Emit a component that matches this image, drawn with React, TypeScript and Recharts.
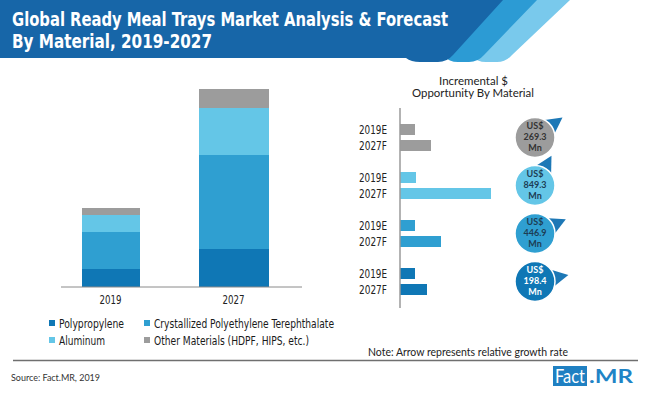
import React from 'react';
import { BarChart, Bar, XAxis, YAxis, Cell, LabelList } from 'recharts';

// left panel: market value by material (stacked)
const years = ['2019', '2027'];
const materialNames = [
  'Polypropylene',
  'Crystallized Polyethylene Terephthalate',
  'Aluminum',
  'Other Materials (HDPF, HIPS, etc.)',
];
const polypropylene = [18, 38];
const cpet = [37, 94];
const aluminum = [17, 47];
const otherMaterials = [7, 19];

// right panel: incremental opportunity (top to bottom: other, aluminum, cpet, polypropylene)
const oppPeriods = ['2019E', '2027F'];
const opp2019 = [15, 16, 15, 15];
const opp2027 = [31, 91, 41, 27];
const incremental = [269.3, 849.3, 446.9, 198.4];
const arrowAngle = [-36, -61, -25, -11];

const MAT_COLORS = ['#0f77b5', '#2f9fd1', '#64c6e7', '#9c9c9c'];
const OPP_COLORS = [MAT_COLORS[3], MAT_COLORS[2], MAT_COLORS[1], MAT_COLORS[0]];
const BUBBLE_TEXT = ['#333333', '#1d3d55', '#1d3d55', '#ffffff'];
const NARROW = "'Liberation Sans Narrow', 'DejaVu Sans Condensed', 'Roboto Condensed', Roboto, sans-serif";
const SOFT = "Lato, 'Open Sans', sans-serif";

const stackData = years.map((year, i) => ({
  year,
  pp: polypropylene[i],
  cpet: cpet[i],
  al: aluminum[i],
  other: otherMaterials[i],
}));

type OppRow = { id: string; label: string; value: number; group: number; first: boolean };
const oppRows: OppRow[] = [];
opp2019.forEach((v, g) => {
  oppRows.push({ id: `g${g}a`, label: oppPeriods[0], value: v, group: g, first: true });
  oppRows.push({ id: `g${g}b`, label: oppPeriods[1], value: opp2027[g], group: g, first: false });
  if (g < opp2019.length - 1) oppRows.push({ id: `s${g}`, label: '', value: 0, group: g, first: false });
});

const barWidths = [58, 70];

const StackShape = (props: any) => {
  const { x, y, width, height, fill, index } = props;
  if (!height || height <= 0) return null;
  const w = barWidths[index] ?? width;
  return <rect x={x + (width - w) / 2} y={y} width={w} height={height} fill={fill} />;
};

const OppShape = (props: any) => {
  const { x, y, width, height, fill } = props;
  if (!width || width <= 0) return null;
  return <rect x={x} y={y} width={width} height={height} fill={fill} />;
};

const YearTick = (props: any) => {
  const { x, y, payload } = props;
  return (
    <text x={x} y={y} dy={9} textAnchor="middle" fontFamily={NARROW} fontSize={12} fill="#222"
      textLength={22} lengthAdjust="spacingAndGlyphs">
      {payload.value}
    </text>
  );
};

const OppTick = (props: any) => {
  const { x, y, payload } = props;
  const row = oppRows.find((r) => r.id === payload.value);
  if (!row || !row.label) return null;
  return (
    <text x={x} y={y} dy={4.5} textAnchor="end" fontFamily={NARROW} fontSize={12} fill="#222"
      textLength={28} lengthAdjust="spacingAndGlyphs">
      {row.label}
    </text>
  );
};

const Bubble = (props: any) => {
  const { index } = props;
  const vb = props.viewBox ?? props;
  const row = oppRows[index];
  if (!row || !row.first) return null;
  const g = row.group;
  const r = 20;
  const cx = vb.x + 135;
  const cy = vb.y + vb.height / 2 + 8;
  const a = (arrowAngle[g] * Math.PI) / 180;
  const half = (34 * Math.PI) / 180;
  const tip = r + 14;
  const pts = [
    [cx + tip * Math.cos(a), cy + tip * Math.sin(a)],
    [cx + (r - 2) * Math.cos(a - half), cy + (r - 2) * Math.sin(a - half)],
    [cx + (r - 2) * Math.cos(a + half), cy + (r - 2) * Math.sin(a + half)],
  ];
  const col = BUBBLE_TEXT[g];
  return (
    <g>
      <polygon points={pts.map((p) => p.join(',')).join(' ')} fill="#1d78b6" />
      <circle cx={cx} cy={cy} r={r} fill={OPP_COLORS[g]} stroke="#fff" strokeWidth={1.5} />
      <text textAnchor="middle" fontFamily={SOFT} fontWeight="bold" fontSize={9} fill={col}>
        <tspan x={cx} y={cy - 8.5}>US$</tspan>
        <tspan x={cx} y={cy + 2.5}>{incremental[g].toFixed(1)}</tspan>
        <tspan x={cx} y={cy + 13.5}>Mn</tspan>
      </text>
    </g>
  );
};

const legendPos = [
  { x: 49, y: 323, w: 65 },
  { x: 144, y: 323, w: 180 },
  { x: 49, y: 340, w: 46 },
  { x: 144, y: 340, w: 155 },
];

export default function App() {
  return (
    <div style={{ position: 'absolute', left: 0, top: 0, width: 650, height: 395, background: '#fff', overflow: 'hidden' }}>
      {/* header band */}
      <svg width={650} height={66} style={{ position: 'absolute', left: 0, top: 0 }}>
        <path d="M470 0 H570 L512 55 Q506 62 497 62 H486 Q477 62 472 56 Z" fill="#79c9ec" />
        <path d="M440 0 H537 L484 55 Q478 62 469 62 H458 Q449 62 444 56 Z" fill="#2c9bd4" />
        <path d="M0 0 H503 L453 55 Q447 62 438 62 H420 Q411 62 406 58 H0 Z" fill="#1766a8" />
        <text x={12} y={26} fill="#fff" fontFamily={NARROW} fontWeight="bold" fontSize={19}
          textLength={436} lengthAdjust="spacingAndGlyphs">
          Global Ready Meal Trays Market Analysis &amp; Forecast
        </text>
        <text x={12} y={48} fill="#fff" fontFamily={NARROW} fontWeight="bold" fontSize={19}
          textLength={200} lengthAdjust="spacingAndGlyphs">
          By Material, 2019-2027
        </text>
      </svg>

      {/* left stacked chart */}
      <div style={{ position: 'absolute', left: 0, top: 70 }}>
        <BarChart width={340} height={240} data={stackData} margin={{ top: 17, right: 38, left: 61, bottom: 0 }}>
          <XAxis dataKey="year" axisLine={{ stroke: '#8a8a8a' }} tickLine={false} tick={<YearTick />}
            height={23} padding={{ left: -12, right: 7 }} />
          <YAxis hide domain={[0, 200]} />
          <Bar dataKey="pp" stackId="a" fill={MAT_COLORS[0]} barSize={64} shape={<StackShape />} isAnimationActive={false} />
          <Bar dataKey="cpet" stackId="a" fill={MAT_COLORS[1]} barSize={64} shape={<StackShape />} isAnimationActive={false} />
          <Bar dataKey="al" stackId="a" fill={MAT_COLORS[2]} barSize={64} shape={<StackShape />} isAnimationActive={false} />
          <Bar dataKey="other" stackId="a" fill={MAT_COLORS[3]} barSize={64} shape={<StackShape />} isAnimationActive={false} />
        </BarChart>
      </div>

      {/* right incremental opportunity chart */}
      <div style={{ position: 'absolute', left: 340, top: 100 }}>
        <BarChart width={310} height={215} data={oppRows} layout="vertical"
          margin={{ top: 8, right: 150, left: 0, bottom: 7 }}>
          <XAxis type="number" hide domain={[0, 100]} />
          <YAxis type="category" dataKey="id" width={60} interval={0} axisLine={{ stroke: '#9a9a9a', strokeWidth: 1.5 }}
            tickLine={false} tickSize={6} tickMargin={7} tick={<OppTick />} padding={{ top: 13, bottom: 11 }} />
          <Bar dataKey="value" barSize={11} shape={<OppShape />} isAnimationActive={false}>
            {oppRows.map((r) => (
              <Cell key={r.id} fill={OPP_COLORS[r.group]} />
            ))}
            <LabelList dataKey="value" content={<Bubble />} />
          </Bar>
        </BarChart>
      </div>

      {/* overlay texts */}
      <svg width={650} height={395} style={{ position: 'absolute', left: 0, top: 0, pointerEvents: 'none' }}>
        <text x={473.5} y={85} textAnchor="middle" fontFamily={SOFT} fontSize={11} fill="#222"
          textLength={69} lengthAdjust="spacingAndGlyphs">Incremental $</text>
        <text x={473} y={97} textAnchor="middle" fontFamily={SOFT} fontSize={11} fill="#222"
          textLength={122} lengthAdjust="spacingAndGlyphs">Opportunity By Material</text>

        {materialNames.map((name, i) => (
          <g key={name}>
            <rect x={legendPos[i].x} y={legendPos[i].y - 3} width={6} height={6} fill={MAT_COLORS[i]} />
            <text x={legendPos[i].x + 10} y={legendPos[i].y + 4.5} fontFamily={NARROW} fontSize={12} fill="#1a1a1a"
              textLength={legendPos[i].w} lengthAdjust="spacingAndGlyphs">{name}</text>
          </g>
        ))}

        <text x={368} y={356} fontFamily={SOFT} fontSize={10.5} fill="#222"
          textLength={200} lengthAdjust="spacingAndGlyphs">Note: Arrow represents relative growth rate</text>
        <line x1={13} y1={360.5} x2={638} y2={360.5} stroke="#6f6f6f" strokeWidth={1.5} />
        <text x={11} y={381} fontFamily={SOFT} fontSize={10} fill="#333"
          textLength={89} lengthAdjust="spacingAndGlyphs">Source: Fact.MR, 2019</text>

        <rect x={553} y={366} width={34} height={20} fill="#1f80c2" />
        <text x={555} y={383} fontFamily={SOFT} fontSize={19} fill="#fff"
          textLength={30} lengthAdjust="spacingAndGlyphs">Fact</text>
        <text x={589} y={383} fontFamily={SOFT} fontWeight="bold" fontSize={19} fill="#1f84c6"
          textLength={44} lengthAdjust="spacingAndGlyphs">.MR</text>
      </svg>
    </div>
  );
}
